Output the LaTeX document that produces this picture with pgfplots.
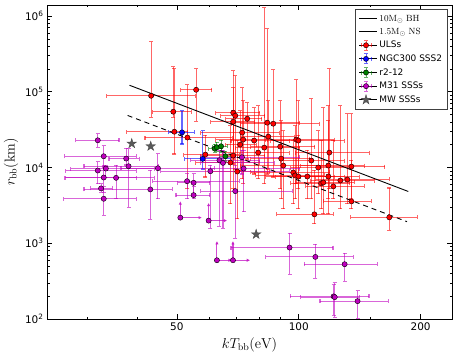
\documentclass[border=0pt]{standalone}
\usepackage[no-math]{fontspec}
\setmainfont{DejaVu Sans}
\usepackage{pgfplots}
\usepackage{pgfplotstable}
\pgfplotsset{compat=1.18}
\usetikzlibrary{arrows.meta}

\definecolor{ulsred}{HTML}{FF0000}
\definecolor{sssblue}{HTML}{0000FF}
\definecolor{rgreen}{HTML}{008000}
\definecolor{mpurple}{HTML}{BF00BF}
\definecolor{mwgray}{HTML}{595959}

% filled five-point star, like the matplotlib '*'
\pgfdeclareplotmark{fstar}{%
  \pgfpathmoveto{\pgfpointpolar{90}{\pgfplotmarksize}}%
  \pgfpathlineto{\pgfpointpolar{126}{0.382\pgfplotmarksize}}%
  \pgfpathlineto{\pgfpointpolar{162}{\pgfplotmarksize}}%
  \pgfpathlineto{\pgfpointpolar{198}{0.382\pgfplotmarksize}}%
  \pgfpathlineto{\pgfpointpolar{234}{\pgfplotmarksize}}%
  \pgfpathlineto{\pgfpointpolar{270}{0.382\pgfplotmarksize}}%
  \pgfpathlineto{\pgfpointpolar{306}{\pgfplotmarksize}}%
  \pgfpathlineto{\pgfpointpolar{342}{0.382\pgfplotmarksize}}%
  \pgfpathlineto{\pgfpointpolar{18}{\pgfplotmarksize}}%
  \pgfpathlineto{\pgfpointpolar{54}{0.382\pgfplotmarksize}}%
  \pgfpathclose
  \pgfusepathqfillstroke}

\pgfplotsset{
  errbars/.style={color=#1, only marks, mark=none,
    error bars/.cd, x dir=both, y dir=both, x explicit, y explicit, error mark=none,
    error bar style={color=#1, opacity=0.6, line width=1.1bp,
      {Bar[width=4bp]}-{Bar[width=4bp]}}},
  dots/.style={only marks, mark=*, mark size=2.6bp,
    mark options={fill=#1, draw=black, line width=0.4pt}},
  table/bnd/.style={x=x, y=y,
    x error plus expr=\thisrow{xhi}-\thisrow{x},
    x error minus expr=\thisrow{x}-\thisrow{xlo},
    y error plus expr=\thisrow{yhi}-\thisrow{y},
    y error minus expr=\thisrow{y}-\thisrow{ylo}},
}

\newcommand{\errimg}[1]{\addlegendimage{legend image code/.code={%
  \path (-1bp,0bp) -- (17bp,0bp);
  \draw[#1,opacity=0.6,line width=1bp] (1bp,0bp) -- (11bp,0bp) (6bp,-5bp) -- (6bp,5bp)
    (1bp,-2bp) -- (1bp,2bp) (11bp,-2bp) -- (11bp,2bp) (4bp,-5bp) -- (8bp,-5bp) (4bp,5bp) -- (8bp,5bp);
  \filldraw[fill=#1,draw=black,line width=0.4pt] (6bp,0bp) circle (2.6bp);}}}

% ULSs: x y and error bounds (eV, km)
\pgfplotstableread{
x y xlo xhi ylo yhi
43.2 88600 33.5 55.8 45500 468000
49.0 54600 43.5 54.6 45500 220000
49.3 29700 37.5 53.4 14830 207000
55.8 106300 51.0 61.2 40300 207000
53.1 24900 41.6 68.9 5140 127400
58.8 14830 51.9 71.7 7380 27200
68.9 52900 62.2 80.4 10950 194800
69.7 48300 64.0 82.7 9410 167400
74.6 44100 65.9 81.3 12740 73900
83.6 39100 67.8 100.9 8090 695000
86.5 37900 71.7 113.0 7380 201000
72.5 28900 57.1 90.0 6950 116300
72.9 23400 62.2 84.1 5980 78500
71.7 20100 65.9 79.0 8860 58000
77.6 22700 67.8 95.3 8090 63500
82.2 18330 69.7 100.9 5980 1313000
79.4 15760 64.7 95.3 6950 67500
84.1 25600 71.7 98.0 9410 78500
90.0 18900 75.9 109.9 5140 78500
98.6 23400 82.7 123.1 5980 148400
99.8 22700 85.1 130.3 5140 78500
90.5 13130 75.9 106.8 3790 42800
91.6 10620 71.7 119.7 2800 31600
107.4 12360 90.0 130.3 3790 83400
111.7 10000 95.3 134.1 4410 31600
119.0 15760 98.0 150.2 5140 207000
118.3 10620 100.9 146.0 3790 67500
134.9 10300 113.0 163.6 3790 52900
96.9 8600 75.9 119.7 3260 23400
98.0 7850 78.1 116.3 3790 36800
99.8 7610 82.7 123.1 2800 27200
105.0 7610 87.5 130.3 3790 17250
118.3 7610 100.9 141.9 2410 42800
113.6 6170 95.3 134.1 2800 23400
115.0 6350 98.0 137.9 2410 63500
121.7 5630 103.8 146.0 3790 23400
126.7 6740 106.8 154.5 2800 67500
131.8 6950 109.9 168.3 3260 52900
134.9 3570 115.0 151.9 2800 12740
109.3 2410 88.0 122.4 1778 9410
167.3 2200 134.1 197.3 1438 5460
68.9 40300 60.5 78.1 12740 116300
67.8 11640 55.5 80.4 3260 36800
70.5 8860 60.5 85.1 2070 23400
68.9 14380 57.1 82.7 5140 58000
}\ulsdata

\pgfplotstableread{
x y xlo xhi ylo yhi
51.5 29100 47.5 55.5 20100 58000
57.9 13010 52.0 68.1 9410 31100
}\ngcdata

\pgfplotstableread{
x y xlo xhi ylo yhi
62.0 17780 59.8 64.6 15610 20700
62.8 18500 61.2 65.1 16230 22000
64.3 19100 61.9 67.0 15760 23400
65.9 14090 63.6 68.5 11990 16730
}\rtwodata

\pgfplotstableread{
x y xlo xhi ylo yhi
31.9 22900 28.0 36.1 18150 28600
33.0 14090 26.3 39.9 10000 19680
37.5 13130 33.9 40.6 10620 18330
38.0 10400 29.4 45.1 2950 18150
31.9 9130 26.5 39.9 5980 12110
33.4 9700 27.3 44.2 7310 10950
33.0 7380 26.3 39.9 4640 10950
35.4 7310 26.5 44.2 3790 10950
32.5 5300 30.5 34.8 4640 6290
33.0 3870 26.2 39.9 2290 5680
43.0 5140 29.4 49.0 2030 9410
44.9 9790 36.3 62.2 3790 15610
53.0 6600 43.5 71.7 3790 8510
55.0 6290 50.0 60.5 4410 8510
55.0 4320 49.6 60.5 3790 5680
60.5 8940 45.5 95.3 1528 10950
63.7 12470 54.0 80.4 1624 17250
65.0 11520 57.1 87.5 1528 17250
72.4 13660 57.1 100.9 8090 17250
73.1 9700 60.5 100.9 2560 17250
69.7 4880 57.1 96.9 1129 10950
94.9 878 67.8 121.9 383 1382
109.9 660 82.7 136.6 336 991
129.8 529 102.8 156.9 309 755
121.9 199 94.9 149.6 110 289
122.7 194.5 100.9 141.9 103 307
139.7 172 112.5 166.7 100 243
}\mdata

% M31 lower limits
\pgfplotstableread{
x y xhi yhi
51.0 2180 57.7 3600
59.9 1990 66.6 3430
62.8 597 68.4 1073
68.8 597 75.9 1073
}\mlimdata

\begin{document}
\begin{tikzpicture}
\useasboundingbox (-47bp,-41bp) rectangle (411bp,319bp);
\begin{axis}[
  scale only axis, width=405bp, height=314bp,
  xmode=log, ymode=log,
  xmin=23.9, xmax=239, ymin=100, ymax=1.4e6,
  xtick={50,100,200}, xticklabels={50,100,200},
  minor xtick={30,40,60,70,80,90,150},
  ytick={1e2,1e3,1e4,1e5,1e6},
  yticklabels={10\textsuperscript{2},10\textsuperscript{3},10\textsuperscript{4},10\textsuperscript{5},10\textsuperscript{6}},
  minor ytick={200,300,400,500,600,700,800,900,2000,3000,4000,5000,6000,7000,8000,9000,
    2e4,3e4,4e4,5e4,6e4,7e4,8e4,9e4,2e5,3e5,4e5,5e5,6e5,7e5,8e5,9e5},
  tick align=inside,
  major tick length=5bp, minor tick length=2.5bp,
  every tick/.style={black, line width=0.6pt},
  axis line style={black, line width=0.9pt},
  tick label style={font=\fontsize{10.5}{12}\selectfont},
  label style={font=\fontsize{14}{16}\selectfont},
  xlabel={$kT_{\mathrm{bb}}\mathrm{(eV)}$},
  ylabel={$r_{\mathrm{bb}}\mathrm{(km)}$},
  legend cell align=left,
  legend style={at={(axis description cs:0.99,0.987)}, anchor=north east,
    draw=black!75, line width=0.8pt, fill=white,
    font=\fontsize{9}{10.5}\selectfont, inner sep=3.5bp, row sep=1.5bp},
]
\addplot[forget plot, errbars=ulsred] table[bnd] {\ulsdata};
\addplot[forget plot, dots=ulsred] table[x=x, y=y] {\ulsdata};
\addplot[forget plot, errbars=sssblue] table[bnd] {\ngcdata};
\addplot[forget plot, dots=sssblue] table[x=x, y=y] {\ngcdata};
\addplot[forget plot, errbars=rgreen] table[bnd] {\rtwodata};
\addplot[forget plot, dots=rgreen] table[x=x, y=y] {\rtwodata};
\addplot[forget plot, errbars=mpurple] table[bnd] {\mdata};
\addplot[forget plot, dots=mpurple] table[x=x, y=y] {\mdata};
\addplot[forget plot, color=mpurple, only marks, mark=none,
  error bars/.cd, x dir=plus, y dir=plus, x explicit, y explicit, error mark=none,
  error bar style={color=mpurple, opacity=0.7, line width=1.1bp, -{Latex[length=3.5bp,width=3.5bp]}}]
  table[x=x, y=y, x error plus expr=\thisrow{xhi}-\thisrow{x},
    y error plus expr=\thisrow{yhi}-\thisrow{y}] {\mlimdata};
\addplot[forget plot, dots=mpurple] table[x=x, y=y] {\mlimdata};
\addplot[forget plot, only marks, mark=fstar, mark size=5bp,
  mark options={fill=mwgray, draw=black!70, line width=0.4pt}]
  coordinates {(38.7,20700) (43.1,19100) (78.5,1313)};
\addplot[forget plot, black, line width=0.9pt] coordinates {(38.2,122000) (186.4,4830)};
\addplot[forget plot, black, line width=0.9pt, dash pattern=on 5bp off 4bp] coordinates {(37.8,48700) (185,1930)};

\addlegendimage{legend image code/.code={\path (-1bp,0bp) -- (17bp,0bp);
  \draw[black,line width=0.9pt] (0bp,0bp) -- (12bp,0bp);}}
\addlegendentry{$\mathrm{10M_\odot\ BH}$}
\addlegendimage{legend image code/.code={\path (-1bp,0bp) -- (17bp,0bp);
  \draw[black,line width=0.9pt,dash pattern=on 4bp off 3bp] (0bp,0bp) -- (12bp,0bp);}}
\addlegendentry{$\mathrm{1.5M_\odot\ NS}$}
\errimg{ulsred}
\addlegendentry{ULSs}
\errimg{sssblue}
\addlegendentry{NGC300 SSS2}
\errimg{rgreen}
\addlegendentry{r2-12}
\errimg{mpurple}
\addlegendentry{M31 SSSs}
\addlegendimage{legend image code/.code={\path (-1bp,0bp) -- (17bp,0bp);
  \path plot[mark=fstar, mark size=5bp,
  mark options={fill=mwgray,draw=black!70,line width=0.4pt}] coordinates {(6bp,0bp)};}}
\addlegendentry{MW SSSs}
\end{axis}
\end{tikzpicture}
\end{document}
